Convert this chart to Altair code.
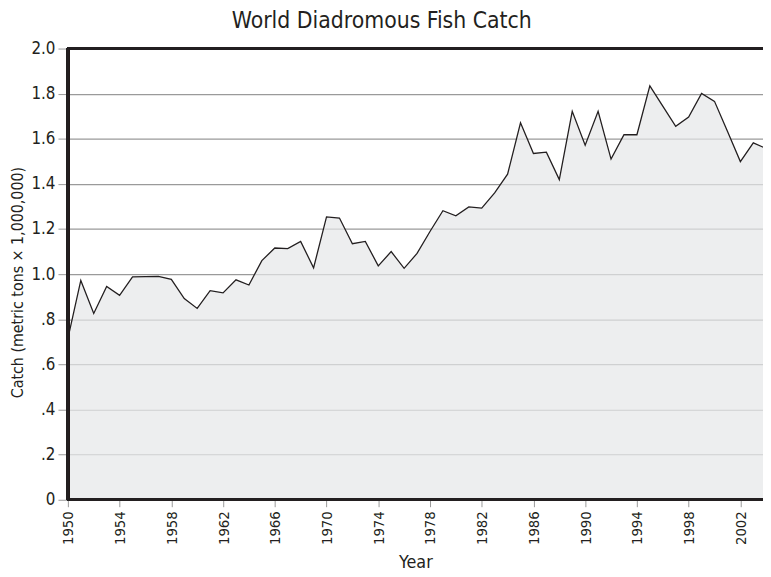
import altair as alt
import pandas as pd

years = list(range(1950, 2005))
catch = [
    0.714, 0.972, 0.826, 0.946, 0.906, 0.988, 0.989, 0.990, 0.977, 0.892,
    0.848, 0.927, 0.917, 0.975, 0.952, 1.060, 1.116, 1.113, 1.145, 1.028,
    1.254, 1.249, 1.135, 1.145, 1.037, 1.100, 1.026, 1.092, 1.189, 1.281,
    1.259, 1.298, 1.293, 1.360, 1.443, 1.671, 1.535, 1.541, 1.419, 1.722,
    1.572, 1.722, 1.510, 1.618, 1.618, 1.835, 1.745, 1.655, 1.696, 1.801,
    1.766, 1.633, 1.499, 1.582, 1.557,
]
x_ticks = list(range(1950, 2003, 4))
y_ticks = [0, 0.2, 0.4, 0.6, 0.8, 1.0, 1.2, 1.4, 1.6, 1.8, 2.0]

df = pd.DataFrame({"Year": years, "Catch": catch})

FONT = "'DejaVu Sans Condensed', 'Liberation Sans', sans-serif"
INK = "#231f20"

x_scale = alt.Scale(domain=[1950, 2003.75], nice=False, zero=False)
y_scale = alt.Scale(domain=[0, 2.0], nice=False)

base = alt.Chart(df)

area = base.mark_area(
    color="#e6e7e8", clip=True,
    line={"color": INK, "strokeWidth": 1.3},
).encode(
    x=alt.X("Year:Q", scale=x_scale,
            axis=alt.Axis(values=x_ticks, format="d", labelAngle=270,
                          labelFont=FONT, labelFontSize=15, labelColor=INK,
                          labelPadding=4, tickColor="#999999", tickSize=7,
                          domain=False, grid=False,
                          title="Year", titleFont=FONT, titleFontSize=18,
                          titleFontWeight="normal", titleColor=INK,
                          titleY=68, titleBaseline="alphabetic")),
    y=alt.Y("Catch:Q", scale=y_scale,
            axis=alt.Axis(values=y_ticks,
                          labelExpr="datum.value == 0 ? '0' : (datum.value < 1 ? replace(format(datum.value, '.1f'), '0.', '.') : format(datum.value, '.1f'))",
                          labelFont=FONT, labelFontSize=17, labelColor=INK,
                          labelPadding=3, tickColor="#999999", tickSize=10,
                          domain=False, grid=True, gridColor="#9a9a9a",
                          gridWidth=1.2,
                          title="Catch (metric tons \u00d7 1,000,000)",
                          titleFont=FONT, titleFontSize=16,
                          titleFontWeight="normal", titleColor=INK,
                          titleAngle=270, titleX=-51, titleY=236,
                          titleAlign="center", titleBaseline="middle")),
)

rule_bottom = base.mark_rule(color=INK, strokeWidth=2.6).encode(
    y=alt.datum(0, scale=y_scale))
rule_top = base.mark_rule(color=INK, strokeWidth=2.6).encode(
    y=alt.datum(2.0, scale=y_scale))
rule_left = base.mark_rule(color=INK, strokeWidth=2.6).encode(
    x=alt.datum(1950, scale=x_scale))

chart = alt.layer(area, rule_bottom, rule_top, rule_left).properties(
    width=702.5,
    height=456,
    autosize=alt.AutoSizeParams(type="none"),
    padding={"left": 60.5, "top": 38, "right": 0, "bottom": 70},
    title=alt.TitleParams("World Diadromous Fish Catch", font=FONT,
                          fontSize=23, fontWeight="normal", color=INK,
                          anchor="middle", dx=-34, offset=7),
).configure_view(stroke=None).configure(background="white")

chart.save("out.html", embed_options={"renderer": "svg", "actions": False})
